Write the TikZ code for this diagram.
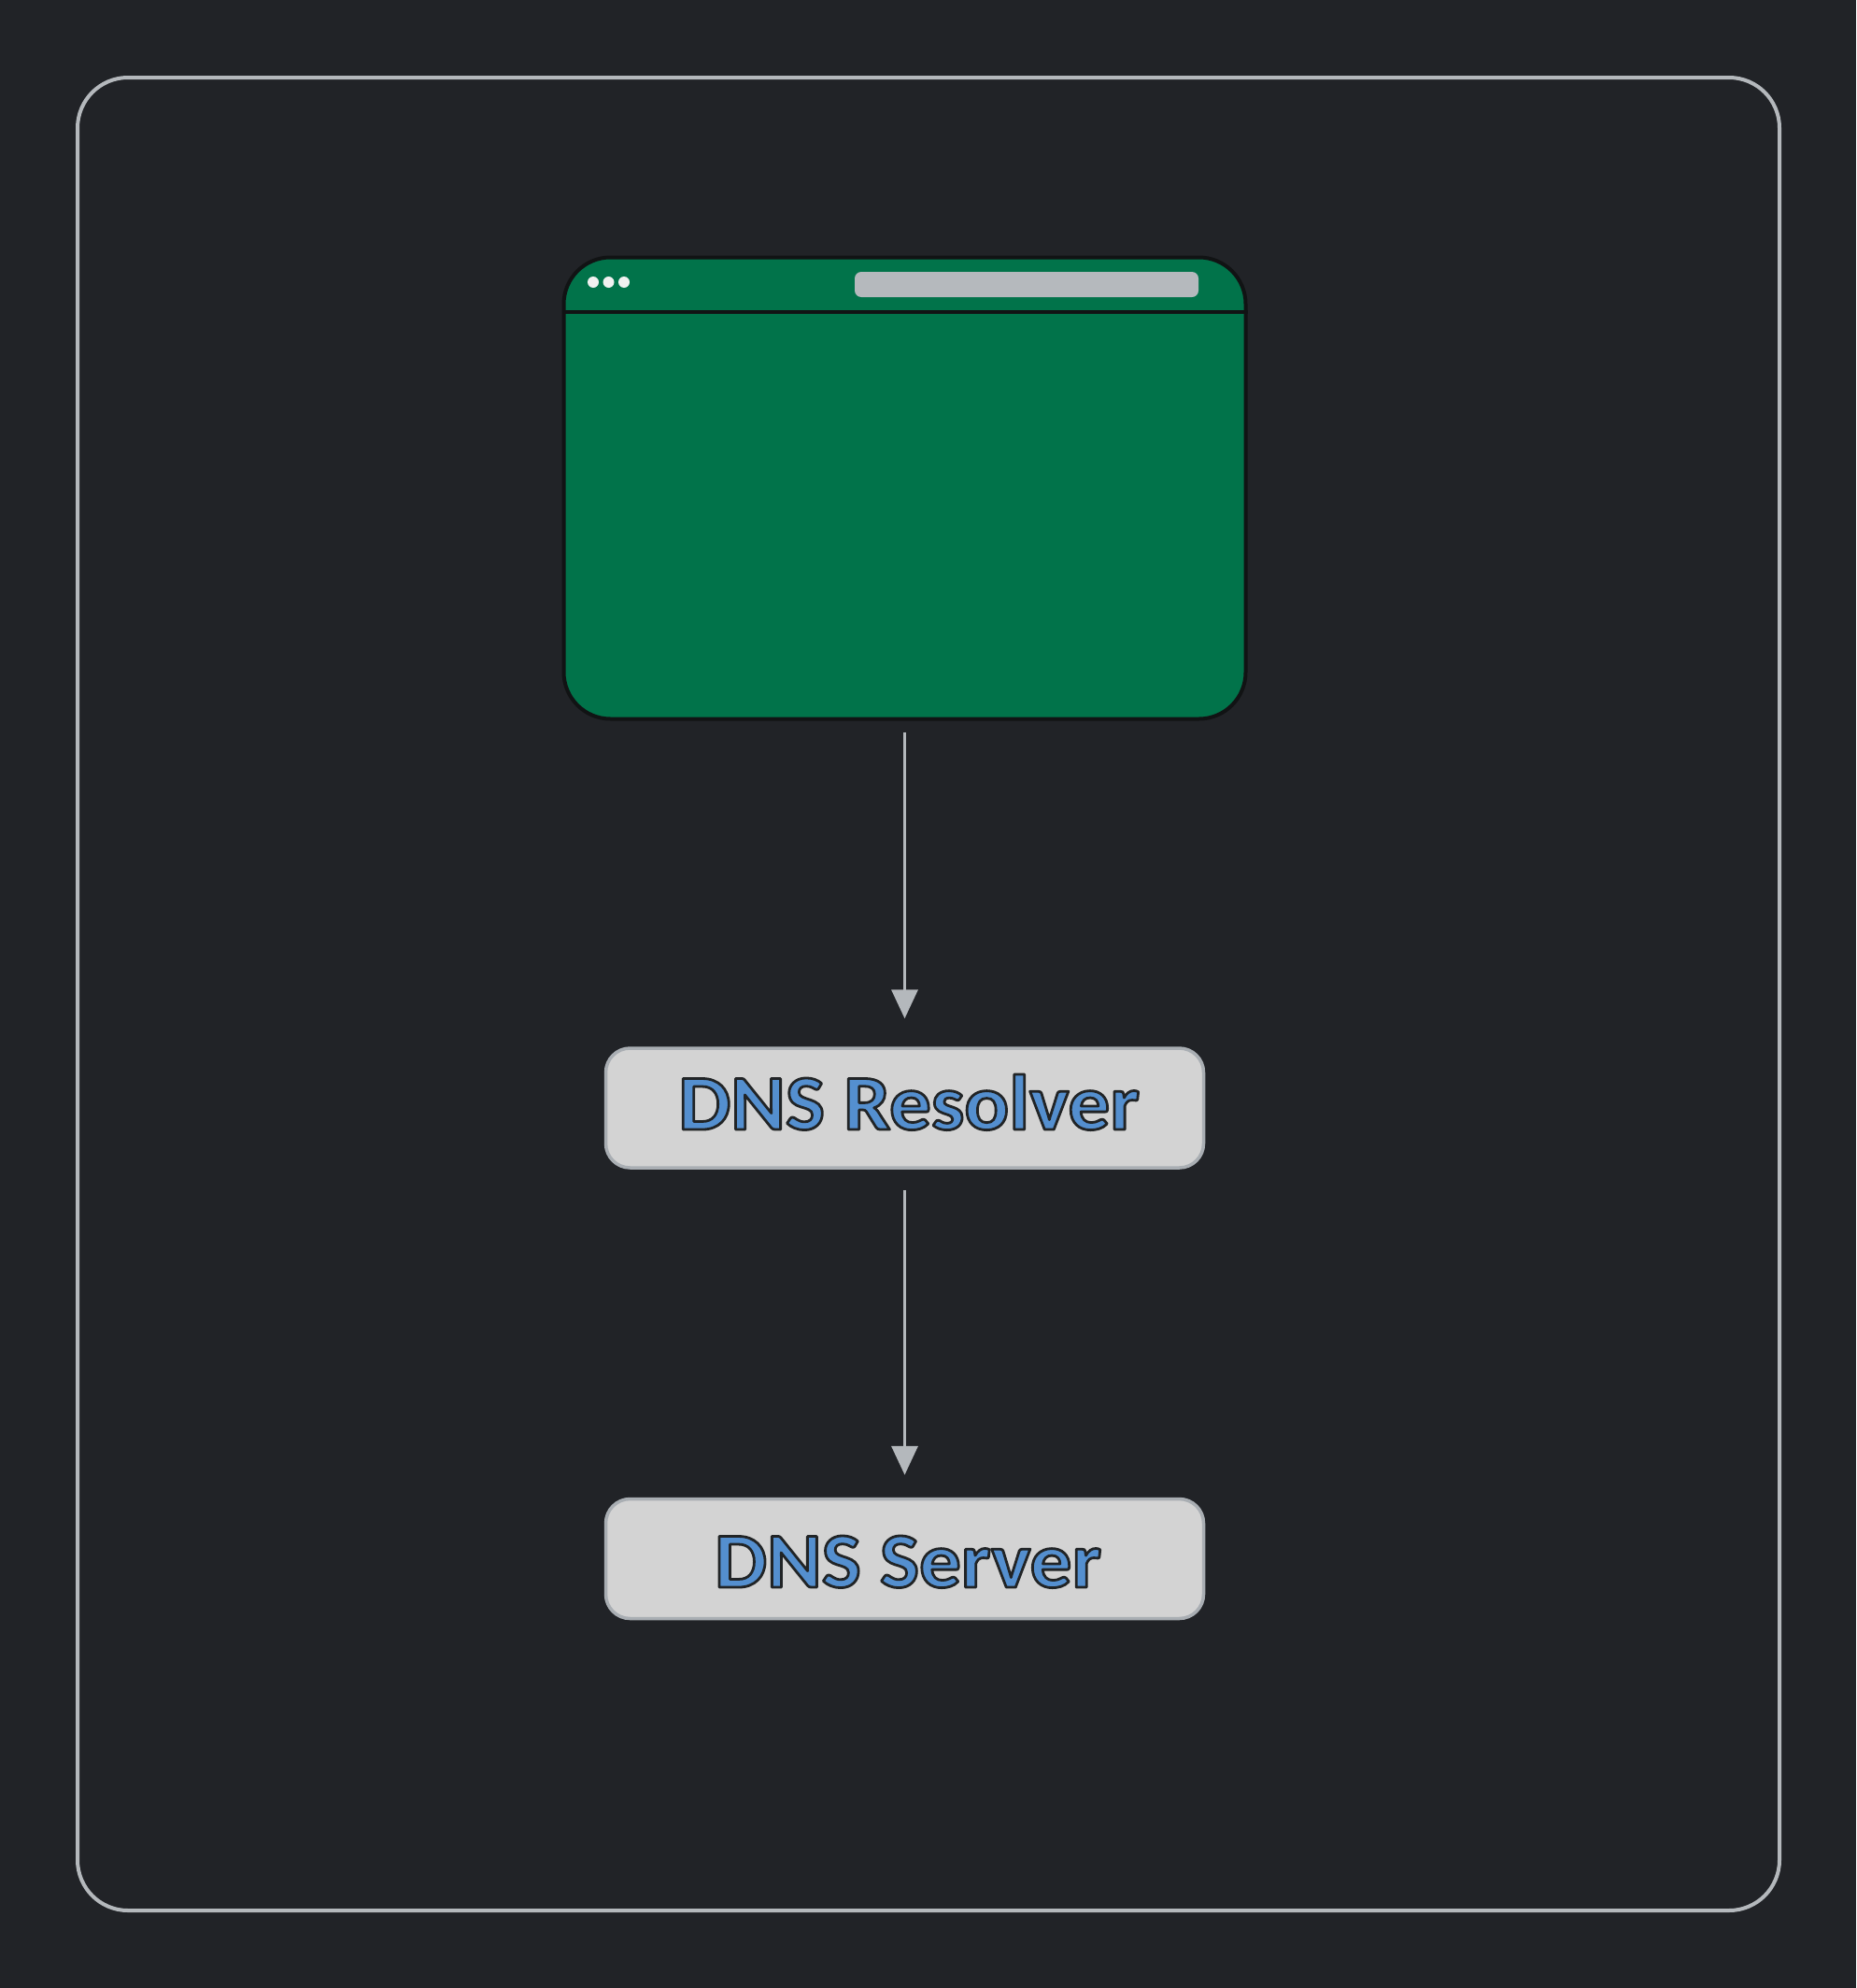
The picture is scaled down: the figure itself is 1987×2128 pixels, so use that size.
\documentclass[tikz,border=0pt]{standalone}
\usepackage{fontspec}
\usetikzlibrary{arrows.meta}
\newfontfamily\handfont[BoldFeatures={FakeStretch=1.06}]{Carlito}
\definecolor{bgc}{HTML}{212327}
\definecolor{framec}{HTML}{B4B8BC}
\definecolor{greenc}{HTML}{01734A}
\definecolor{darkc}{HTML}{111314}
\definecolor{boxc}{HTML}{D3D3D3}
\definecolor{boxl}{HTML}{A9AEB3}
\definecolor{barc}{HTML}{B5B9BD}
\definecolor{dotc}{HTML}{F1F1F1}
\newcommand{\outlined}[1]{\special{pdf:code q 2 Tr 2.8 w 1 j 1 J 0.33 0.56 0.81 rg 0.13 0.14 0.15 RG}#1\special{pdf:code Q}}
\tikzset{
  framebox/.style={draw=framec,line width=4pt,rounded corners=54pt,fill=bgc},
  browserbox/.style={draw=darkc,fill=greenc,line width=4pt,rounded corners=50pt,minimum width=730pt,minimum height=494pt,inner sep=0pt},
  labelbox/.style={draw=boxl,fill=boxc,line width=3.5pt,rounded corners=26pt,minimum width=640pt,minimum height=128pt,inner sep=0pt},
  labeltext/.style={font=\fontsize{84}{84}\selectfont\handfont\bfseries,anchor=base,inner sep=0pt},
  flow/.style={draw=framec,line width=3.5pt,-{Triangle[length=31pt,width=28pt]}},
  wdot/.style={circle,fill=dotc,minimum size=12pt,inner sep=0pt},
  urlbar/.style={fill=barc,rounded corners=7pt,minimum width=368pt,minimum height=27pt,inner sep=0pt}
}
\begin{document}
\begin{tikzpicture}[x=1pt,y=-1pt]
\useasboundingbox (0,0) rectangle (1987,2128);
\fill[bgc] (0,0) rectangle (1987,2128);
\draw[framebox] (83,83) rectangle (1905,2045);
\node[browserbox] (browser) at (968.5,522.5) {};
\coordinate (hl) at (browser.west |- 0,334);
\coordinate (hr) at (browser.east |- 0,334);
\draw[darkc,line width=3.5pt] (hl) -- (hr);
\node[urlbar] (bar) at (1099,304.5) {};
\node[wdot] (d1) at (635,302) {};
\node[wdot] (d2) at (651.5,302) {};
\node[wdot] (d3) at (668,302) {};
\node[labelbox] (resolver) at (968.5,1186) {};
\node[labelbox] (server) at (968.5,1668.5) {};
\node[labeltext] (t1) at (973,1209) {\outlined{DNS Resolver}};
\node[labeltext] (t2) at (972,1699) {\outlined{DNS Server}};
\draw[flow,shorten <=12pt,shorten >=30pt] (browser.south) -- (resolver.north);
\draw[flow,shorten <=22pt,shorten >=24pt] (resolver.south) -- (server.north);
\end{tikzpicture}
\end{document}
